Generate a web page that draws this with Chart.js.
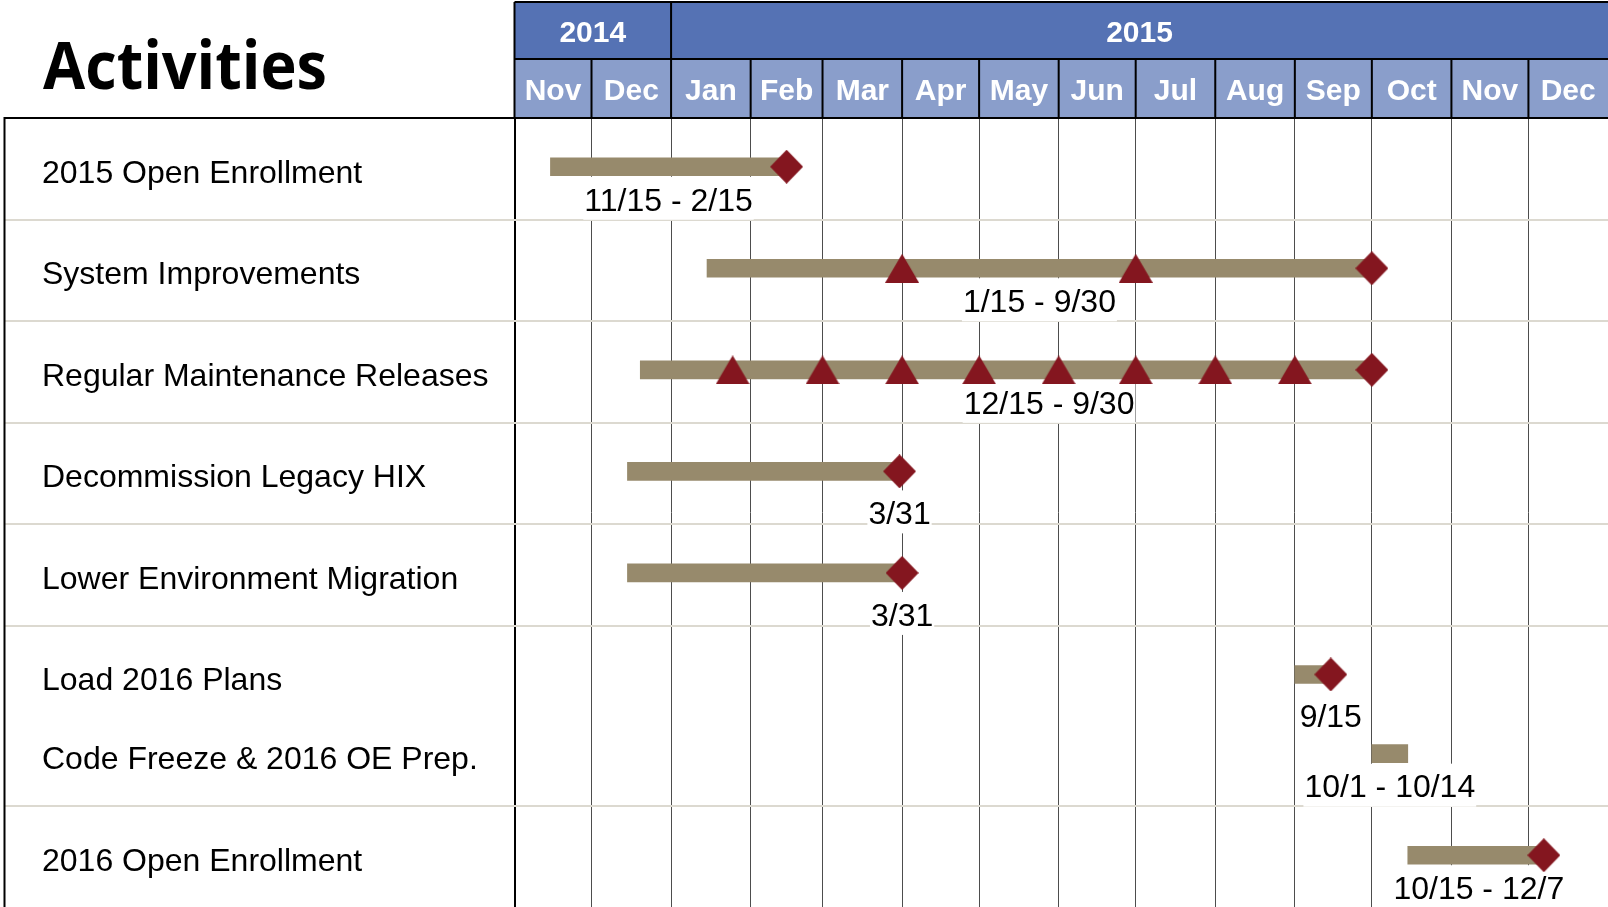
<!DOCTYPE html>
<html>
<head>
<meta charset="utf-8">
<title>Activities</title>
<script src="https://cdn.jsdelivr.net/npm/chart.js@4.4.1/dist/chart.umd.min.js"></script>
<style>
  html, body { margin: 0; padding: 0; background: #fff; }
  #wrap { width: 1608px; height: 907px; }
</style>
</head>
<body>
<div id="wrap"><canvas id="ganttChart" width="1608" height="907"></canvas></div>
<script>
const activities = [
  '2015 Open Enrollment',
  'System Improvements',
  'Regular Maintenance Releases',
  'Decommission Legacy HIX',
  'Lower Environment Migration',
  'Load 2016 Plans',
  'Code Freeze & 2016 OE Prep.',
  '2016 Open Enrollment'
];
// vertical slot of each activity (Load 2016 Plans and Code Freeze share one row block)
const rowSlot = [0, 1, 2, 3, 4, 5, 5.78, 6.78];
const startDates = ['2014-11-15', '2015-01-15', '2014-12-20', '2014-12-15', '2014-12-15', '2015-09-01', '2015-10-01', '2015-10-15'];
const endDates = ['2015-02-15', '2015-10-01', '2015-10-01', '2015-03-31', '2015-04-01', '2015-09-15', '2015-10-15', '2015-12-07'];
const spanLabels = ['11/15 - 2/15', '1/15 - 9/30', '12/15 - 9/30', '3/31', '3/31', '9/15', '10/1 - 10/14', '10/15 - 12/7'];
const hasFinish = [true, true, true, true, true, true, false, true];

const checkpointRows = [1, 1, 2, 2, 2, 2, 2, 2, 2, 2];
const checkpointDates = ['2015-04-01', '2015-07-01', '2015-01-25', '2015-03-01', '2015-04-01', '2015-05-01', '2015-06-01', '2015-07-01', '2015-08-01', '2015-09-01'];

const yearLabels = ['2014', '2015'];
const yearFirstMonth = [0, 2];
const monthLabels = ['Nov', 'Dec', 'Jan', 'Feb', 'Mar', 'Apr', 'May', 'Jun', 'Jul', 'Aug', 'Sep', 'Oct', 'Nov', 'Dec'];

const ORIGIN = Date.UTC(2014, 10, 1);
const DAY = 86400000;
function dayOf(iso) { return (Date.parse(iso) - ORIGIN) / DAY; }
const monthStarts = monthLabels.map((m, i) => (Date.UTC(2014, 10 + i, 1) - ORIGIN) / DAY);
const timelineEnd = (Date.UTC(2016, 0, 1) - ORIGIN) / DAY;

const MARKER = '#84161f';
const BAR = '#978a6c';
const TEXT_FONT = '"Liberation Sans", Arial, sans-serif';

function markerImage(kind, w, h) {
  const c = document.createElement('canvas');
  c.width = w;
  c.height = h;
  const g = c.getContext('2d');
  g.fillStyle = MARKER;
  g.beginPath();
  if (kind === 'diamond') {
    g.moveTo(w / 2, 0); g.lineTo(w, h / 2); g.lineTo(w / 2, h); g.lineTo(0, h / 2);
  } else {
    g.moveTo(w / 2, 0); g.lineTo(w, h); g.lineTo(0, h);
  }
  g.closePath();
  g.fill();
  return c;
}

const spans = activities.map((a, i) => ({ x: [dayOf(startDates[i]), dayOf(endDates[i])], y: rowSlot[i] }));
const finishes = activities
  .map((a, i) => (hasFinish[i] ? { x: dayOf(endDates[i]), y: rowSlot[i] } : null))
  .filter(Boolean);
const checkpoints = checkpointDates.map((d, i) => ({ x: dayOf(d), y: rowSlot[checkpointRows[i]] }));

const ganttDecor = {
  id: 'ganttDecor',
  beforeDatasetsDraw(chart, args, opts) {
    const { ctx, chartArea } = chart;
    const xs = chart.scales.x, ys = chart.scales.y;
    ctx.save();

    // row separators, skipped inside the grouped block
    ctx.strokeStyle = opts.separatorColor;
    ctx.lineWidth = 2;
    for (let i = 0; i < rowSlot.length - 1; i++) {
      if (rowSlot[i + 1] - rowSlot[i] < 0.9) continue;
      const py = Math.round(ys.getPixelForValue((rowSlot[i] + rowSlot[i + 1]) / 2)) + 2;
      ctx.beginPath();
      ctx.moveTo(5, py);
      ctx.lineTo(chartArea.right, py);
      ctx.stroke();
    }

    // date labels under each bar, on a white box
    ctx.font = '32px ' + TEXT_FONT;
    ctx.textAlign = 'center';
    ctx.textBaseline = 'middle';
    spanLabels.forEach((txt, i) => {
      const single = !txt.includes(' - ');
      const s = dayOf(startDates[i]), e = dayOf(endDates[i]);
      const px = xs.getPixelForValue(single ? e : (s + e) / 2) + (opts.labelNudge[i] || 0);
      const py = ys.getPixelForValue(rowSlot[i]) + (single ? 44 : 35);
      const w = ctx.measureText(txt).width;
      ctx.fillStyle = '#fff';
      ctx.fillRect(px - w / 2 - 1, py - 25, w + 2, 43);
      ctx.fillStyle = '#000';
      ctx.fillText(txt, px, py);
    });
    ctx.restore();
  },
  afterDraw(chart, args, opts) {
    const { ctx, chartArea } = chart;
    const xs = chart.scales.x;
    const right = chartArea.right;
    const top = 2, mid = 59, bottom = 117;
    const edge = i => xs.getPixelForValue(i < monthStarts.length ? monthStarts[i] : timelineEnd);
    ctx.save();

    // year row
    ctx.font = 'bold 30px ' + TEXT_FONT;
    ctx.textAlign = 'center';
    ctx.textBaseline = 'middle';
    yearLabels.forEach((lab, i) => {
      const a = edge(yearFirstMonth[i]);
      const nextIdx = i + 1 < yearFirstMonth.length ? yearFirstMonth[i + 1] : monthStarts.length;
      const b = Math.min(edge(nextIdx), right);
      ctx.fillStyle = opts.yearColor;
      ctx.fillRect(a, top, b - a, mid - top);
      ctx.fillStyle = '#fff';
      ctx.fillText(lab, (a + b) / 2, 34);
    });

    // month row
    monthLabels.forEach((lab, i) => {
      const a = edge(i);
      const b = Math.min(edge(i + 1), right);
      ctx.fillStyle = opts.monthColor;
      ctx.fillRect(a, mid, b - a, bottom - mid);
      ctx.fillStyle = '#fff';
      ctx.fillText(lab, (a + b) / 2, 92);
    });

    // borders
    ctx.strokeStyle = '#000';
    ctx.lineWidth = 2;
    ctx.beginPath();
    ctx.moveTo(edge(0), top); ctx.lineTo(right, top);
    ctx.moveTo(edge(0), mid); ctx.lineTo(right, mid);
    ctx.moveTo(4, bottom + 1); ctx.lineTo(right, bottom + 1);
    ctx.moveTo(4.5, bottom); ctx.lineTo(4.5, chart.height);
    yearFirstMonth.forEach(m => { const p = edge(m); ctx.moveTo(p, top); ctx.lineTo(p, mid); });
    monthStarts.forEach((d, i) => { const p = edge(i); ctx.moveTo(p, mid); ctx.lineTo(p, bottom); });
    ctx.stroke();

    // title
    ctx.font = 'bold 67px "Open Sans", ' + TEXT_FONT;
    ctx.textAlign = 'left';
    ctx.textBaseline = 'alphabetic';
    ctx.fillStyle = '#000';
    const tw = ctx.measureText(opts.title).width;
    ctx.translate(43, 89);
    ctx.scale(284 / tw, 1);
    ctx.fillText(opts.title, 0, 0);
    ctx.restore();
  }
};

const ctx = document.getElementById('ganttChart');

new Chart(ctx, {
  type: 'bar',
  data: {
    datasets: [
      {
        type: 'scatter',
        data: checkpoints,
        pointStyle: markerImage('triangle', 34, 29),
        pointRadius: 12,
        order: 0
      },
      {
        type: 'scatter',
        data: finishes,
        pointStyle: markerImage('diamond', 33, 34),
        pointRadius: 12,
        order: 1
      },
      {
        data: spans,
        backgroundColor: BAR,
        borderWidth: 0,
        barThickness: 18,
        grouped: false,
        order: 2
      }
    ]
  },
  options: {
    indexAxis: 'y',
    responsive: false,
    animation: false,
    events: [],
    layout: { autoPadding: false, padding: { left: 42, top: 118, right: 0, bottom: 0 } },
    plugins: {
      legend: { display: false },
      tooltip: { enabled: false },
      ganttDecor: {
        title: 'Activities',
        yearColor: '#5572b4',
        monthColor: '#8a9ecb',
        separatorColor: '#dcd9d0',
        labelNudge: [0, 0, 43, 0, 0, 0, 0, 3]
      }
    },
    scales: {
      x: {
        type: 'linear',
        position: 'top',
        bounds: 'data',
        offset: false,
        min: 0,
        max: timelineEnd,
        afterBuildTicks: s => { s.ticks = monthStarts.map(v => ({ value: v })); },
        ticks: { display: false },
        grid: { color: '#4d4d4d', lineWidth: 1, drawTicks: false, offset: false },
        border: { display: false }
      },
      y: {
        type: 'linear',
        reverse: true,
        bounds: 'data',
        offset: false,
        min: -0.48,
        max: 7.29,
        afterBuildTicks: s => { s.ticks = rowSlot.map(v => ({ value: v })); },
        afterFit: s => {
          s.width = 472.5;
          s.paddingTop = 0;
          s.paddingBottom = 0;
        },
        ticks: {
          autoSkip: false,
          crossAlign: 'far',
          padding: 0,
          labelOffset: 7,
          color: '#000',
          font: { family: TEXT_FONT, size: 32 },
          callback: (v, i) => activities[i]
        },
        grid: { display: false, offset: false },
        border: { display: true, color: '#000', width: 2 }
      }
    }
  },
  plugins: [ganttDecor]
});
</script>
</body>
</html>
